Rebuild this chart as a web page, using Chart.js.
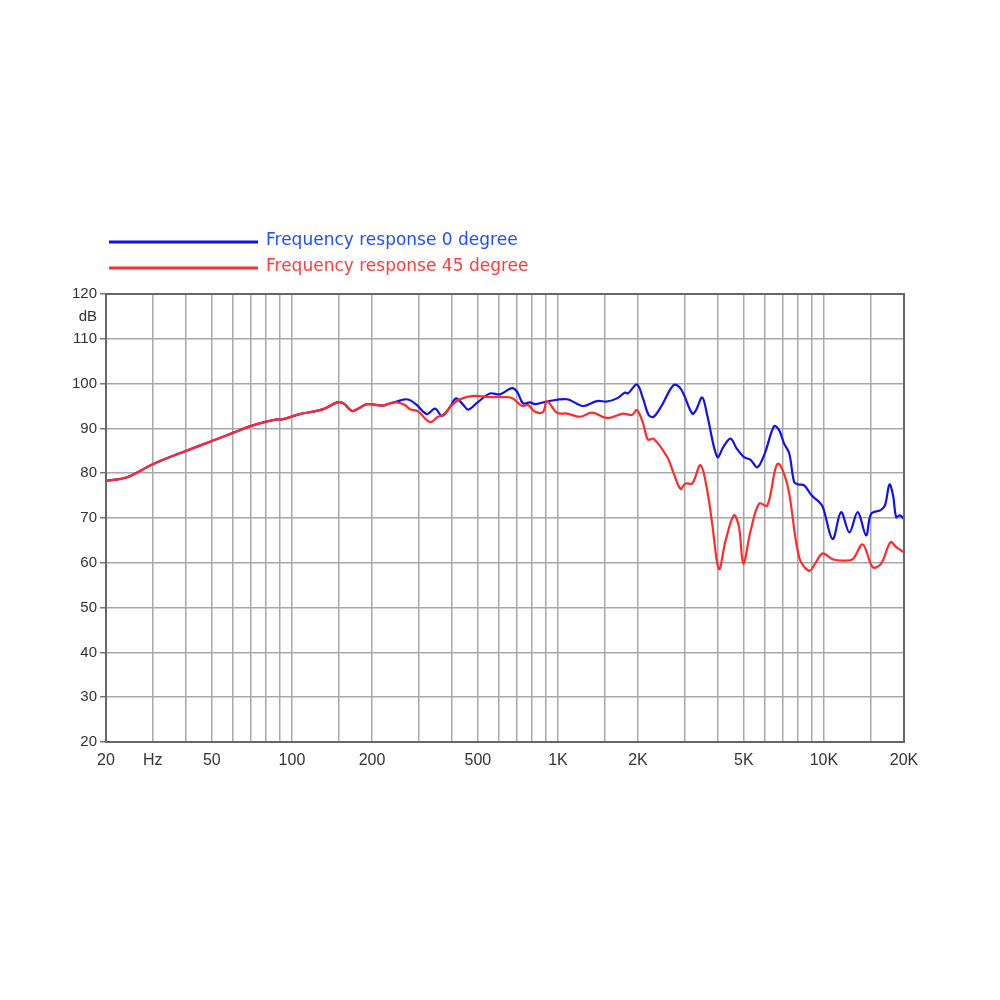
<!DOCTYPE html>
<html>
<head>
<meta charset="utf-8">
<script src="https://cdn.jsdelivr.net/npm/chart.js@4/dist/chart.umd.min.js"></script>
<style>
  html, body { margin: 0; padding: 0; background: #fff; }
  #wrap { width: 1000px; height: 1000px; }
</style>
</head>
<body>
<div id="wrap"><canvas id="fr" width="1000" height="1000"></canvas></div>
<script>
// frequency response, 0 degree (blue)
const freq0 = [20, 24, 30, 40, 50, 60, 70, 80, 88, 92, 107, 117, 131, 148, 156, 168, 176, 192, 220, 234,
  248, 266, 280, 295, 322, 345, 367, 395, 414, 440, 460, 496, 555, 606, 671, 702, 739, 785, 820, 910,
  1082, 1242, 1402, 1528, 1667, 1788, 1835, 1982, 2088, 2194, 2291, 2450, 2727, 2900, 3198, 3300, 3487, 3640,
  3973, 4200, 4458, 4700, 5006, 5300, 5622, 6000, 6498, 6800, 7084, 7400, 7732, 8000, 8430, 9000, 9466, 9900,
  10782, 11596, 12468, 13398, 14408, 15046, 16404, 17000, 17640, 18200, 18694, 19300, 20000];
const spl0 = [78.3, 79.1, 82.0, 85.0, 87.2, 89.0, 90.5, 91.5, 92.0, 92.0, 93.2, 93.6, 94.3, 95.8, 95.6, 93.9, 94.3, 95.4, 95.1, 95.6,
  96.0, 96.5, 96.2, 95.2, 93.2, 94.4, 92.8, 95.0, 96.7, 95.3, 94.2, 95.7, 97.8, 97.6, 99.0, 98.2, 95.6, 95.8, 95.4, 96.0,
  96.5, 95.0, 96.1, 96.0, 96.7, 98.0, 97.8, 99.8, 96.7, 93.0, 92.6, 95.0, 99.7, 98.8, 93.3, 94.0, 96.9, 93.0,
  83.6, 86.0, 87.7, 85.5, 83.6, 83.0, 81.3, 84.5, 90.5, 89.5, 86.6, 84.5, 78.0, 77.5, 77.3, 75.0, 73.9, 72.5,
  65.3, 71.3, 66.8, 71.3, 66.1, 70.9, 71.8, 73.0, 77.5, 75.0, 70.2, 70.6, 69.8];

// frequency response, 45 degree (red)
const freq45 = [20, 24, 30, 40, 50, 60, 70, 80, 88, 92, 107, 117, 131, 148, 156, 168, 176, 192, 220, 234,
  248, 266, 278, 298, 330, 354, 370, 414, 475, 555, 606, 671, 733, 772, 820, 879, 910, 992,
  1082, 1211, 1343, 1542, 1756, 1898, 1982, 2088, 2180, 2291, 2574, 2727, 2889, 3018, 3198, 3436, 3640,
  3802, 4030, 4270, 4592, 4796, 4977, 5304, 5706, 6128, 6690, 7296, 8072, 8802, 9328, 9886,
  10782, 11766, 12830, 13990, 15268, 16404, 17792, 18694, 20000];
const spl45 = [78.3, 79.1, 82.0, 85.0, 87.2, 89.0, 90.5, 91.5, 92.0, 92.0, 93.2, 93.6, 94.3, 95.8, 95.6, 93.9, 94.3, 95.4, 95.1, 95.6,
  95.8, 95.2, 94.3, 93.8, 91.4, 92.6, 93.0, 96.0, 97.2, 97.0, 97.0, 96.8, 95.0, 95.2, 93.7, 93.7, 96.1, 93.5,
  93.3, 92.6, 93.5, 92.3, 93.3, 93.0, 94.1, 91.2, 87.5, 87.7, 83.6, 79.9, 76.5, 77.7, 77.7, 81.8, 76.2,
  68.7, 58.6, 65.0, 70.6, 67.9, 59.8, 67.2, 73.2, 72.8, 82.1, 77.3, 61.2, 58.2, 60.1, 62.1,
  60.8, 60.5, 60.8, 64.1, 59.0, 59.8, 64.6, 63.5, 62.3];

const seriesNames = ['Frequency response 0 degree', 'Frequency response 45 degree'];

// vertical grid lines and the labelled ones
const xGrid = [20, 30, 40, 50, 60, 70, 80, 90, 100, 150, 200, 300, 400, 500, 600, 700, 800, 900,
  1000, 1500, 2000, 3000, 4000, 5000, 6000, 7000, 8000, 9000, 10000, 15000, 20000];
const xTickValues = [20, 30, 50, 100, 200, 500, 1000, 2000, 5000, 10000, 20000];
const xTickLabels = ['20', 'Hz', '50', '100', '200', '500', '1K', '2K', '5K', '10K', '20K'];
const yTickValues = [20, 30, 40, 50, 60, 70, 80, 90, 100, 110, 115, 120];

const toPoints = (xs, ys) => xs.map((x, i) => ({ x: x, y: ys[i] }));

const FONT = '"Liberation Sans", Arial, sans-serif';

// two-line legend above the plot, line then coloured text
const topLegend = {
  id: 'topLegend',
  afterDraw(chart) {
    const ctx = chart.ctx;
    const textCols = ['#1f4fff', '#ff3b3b'];
    ctx.save();
    ctx.font = '17px "DejaVu Sans", Verdana, sans-serif';
    ctx.textBaseline = 'middle';
    chart.data.datasets.forEach((ds, i) => {
      const y = 242 + i * 26;
      ctx.strokeStyle = ds.borderColor;
      ctx.lineWidth = 3;
      ctx.beginPath();
      ctx.moveTo(109, y);
      ctx.lineTo(258, y);
      ctx.stroke();
      ctx.fillStyle = textCols[i];
      ctx.fillText(ds.label, 266, y - 1);
    });
    ctx.restore();
  }
};

// dark frame round the plot
const frame = {
  id: 'frame',
  afterDatasetsDraw(chart) {
    const a = chart.chartArea;
    const ctx = chart.ctx;
    ctx.save();
    ctx.strokeStyle = '#666';
    ctx.lineWidth = 2;
    ctx.strokeRect(a.left, a.top, a.right - a.left, a.bottom - a.top);
    ctx.restore();
  }
};

new Chart(document.getElementById('fr'), {
  type: 'line',
  data: {
    datasets: [
      { label: seriesNames[0], data: toPoints(freq0, spl0), borderColor: '#1010f0', borderWidth: 2.2,
        pointRadius: 0, tension: 0.35, fill: false, order: 2 },
      { label: seriesNames[1], data: toPoints(freq45, spl45), borderColor: '#ff2a2a', borderWidth: 2.2,
        pointRadius: 0, tension: 0.35, fill: false, order: 1 }
    ]
  },
  options: {
    responsive: false,
    animation: false,
    layout: { padding: { left: 0, right: 96, top: 294, bottom: 0 } },
    plugins: { legend: { display: false }, tooltip: { enabled: false } },
    scales: {
      x: {
        type: 'logarithmic',
        min: 20,
        max: 20000,
        afterBuildTicks: (s) => { s.ticks = xGrid.map(v => ({ value: v })); },
        afterFit: (s) => { s.height = 258; },
        grid: { color: '#a8a8a8', lineWidth: 1.5, drawTicks: false },
        border: { display: false },
        ticks: {
          autoSkip: false,
          maxRotation: 0,
          padding: 9,
          color: '#333',
          font: { family: FONT, size: 16 },
          callback: (v) => {
            const i = xTickValues.indexOf(v);
            return i >= 0 ? xTickLabels[i] : '';
          }
        }
      },
      y: {
        min: 20,
        max: 120,
        afterBuildTicks: (s) => { s.ticks = yTickValues.map(v => ({ value: v })); },
        afterFit: (s) => { s.width = 106; },
        grid: {
          color: (c) => (c.tick && c.tick.value === 115) ? 'rgba(0,0,0,0)' : '#a8a8a8',
          tickColor: (c) => (c.tick && c.tick.value === 115) ? 'rgba(0,0,0,0)' : '#777',
          lineWidth: 1.5,
          tickLength: 6
        },
        border: { display: false },
        ticks: {
          padding: 3,
          color: '#333',
          font: { family: FONT, size: 15 },
          callback: (v) => v === 115 ? 'dB' : String(v)
        }
      }
    }
  },
  plugins: [topLegend, frame]
});
</script>
</body>
</html>
